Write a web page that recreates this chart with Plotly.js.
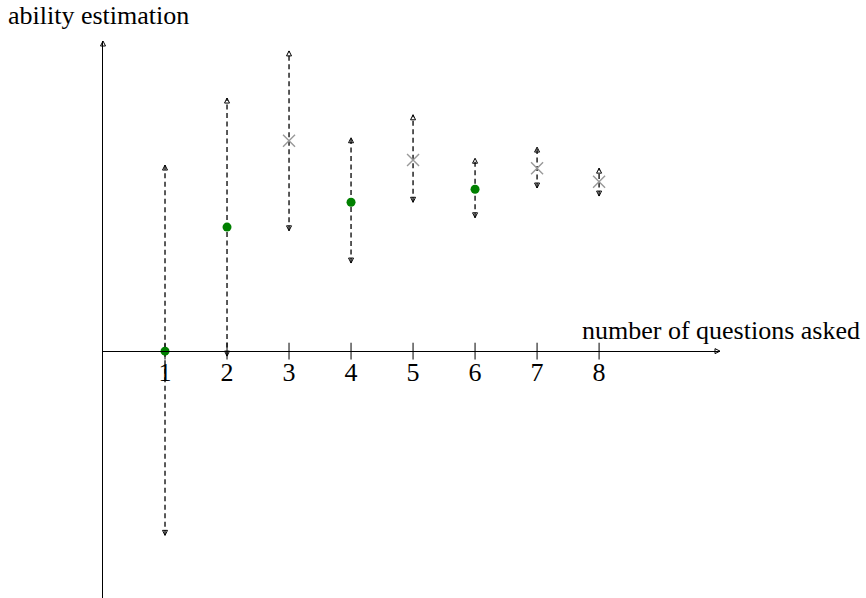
<!DOCTYPE html>
<html><head><meta charset="utf-8">
<script src="https://cdn.plot.ly/plotly-3.0.1.min.js"></script>
<style>html,body{margin:0;padding:0;background:#fff}#c{width:866px;height:598px}</style>
</head><body><div id="c"></div>
<script>
const questions = [1, 2, 3, 4, 5, 6, 7, 8];
const tickLabels = ['1', '2', '3', '4', '5', '6', '7', '8'];
const estimate = [0, 2.0, 3.39, 2.40, 3.08, 2.61, 2.95, 2.73];
const upper = [3.0, 4.08, 4.84, 3.44, 3.81, 3.11, 3.29, 2.95];
const lower = [-2.97, -0.08, 1.94, 1.42, 2.40, 2.15, 2.63, 2.50];
const kind = ['dot', 'dot', 'cross', 'dot', 'cross', 'dot', 'cross', 'cross'];

const xMax = 9.95, yMin = -3.98, yMax = 5.0;
const serif = 'Liberation Serif, Times New Roman, serif';

const barX = [], barY = [];
questions.forEach((q, i) => { barX.push(q, q, null); barY.push(lower[i], upper[i], null); });

const dotsX = [], dotsY = [], crossX = [], crossY = [];
questions.forEach((q, i) => {
  if (kind[i] === 'dot') { dotsX.push(q); dotsY.push(estimate[i]); }
  else { crossX.push(q); crossY.push(estimate[i]); }
});

const arrowMarker = (sym) => ({symbol: sym, size: 5, color: '#000', line: {color: '#000', width: 1}});

const traces = [
  {x: questions, y: questions.map(() => 0), mode: 'markers', marker: {symbol: 'line-ns-open', size: 12, color: '#000', line: {color: '#000', width: 1}}, cliponaxis: false},
  {x: barX, y: barY, mode: 'lines', line: {color: '#000', width: 1.3, dash: '5px,3.5px'}, hoverinfo: 'skip', cliponaxis: false},
  {x: questions, y: upper, mode: 'markers', marker: arrowMarker('arrow-up-open'), cliponaxis: false},
  {x: questions, y: lower, mode: 'markers', marker: arrowMarker('arrow-down-open'), cliponaxis: false},
  {x: crossX, y: crossY, mode: 'markers', marker: {symbol: 'x-thin-open', size: 12, color: '#999', line: {color: '#999', width: 1.4}}, cliponaxis: false},
  {x: dotsX, y: dotsY, mode: 'markers', marker: {symbol: 'circle', size: 9, color: '#008000'}, cliponaxis: false},
  {x: [xMax], y: [0], mode: 'markers', marker: arrowMarker('arrow-right-open'), cliponaxis: false},
  {x: [0], y: [yMax], mode: 'markers', marker: arrowMarker('arrow-up-open'), cliponaxis: false}
];

const layout = {
  width: 866, height: 598,
  margin: {l: 103, r: 146, t: 41, b: 0},
  paper_bgcolor: '#fff', plot_bgcolor: '#fff',
  showlegend: false,
  xaxis: {
    range: [0, xMax], showgrid: false, zeroline: false,
    showline: true, linecolor: '#000', linewidth: 1,
    anchor: 'free', position: (0 - yMin) / (yMax - yMin),
    tickmode: 'array', tickvals: questions, ticktext: tickLabels,
    ticks: '', ticklabelstandoff: -2,
    tickfont: {family: serif, size: 26, color: '#000'}
  },
  yaxis: {
    range: [yMin, yMax], showgrid: false, zeroline: false,
    showline: true, linecolor: '#000', linewidth: 1,
    showticklabels: false, ticks: ''
  },
  annotations: [
    {text: 'ability estimation', xref: 'paper', yref: 'paper', x: -0.157, y: 1.045, xanchor: 'left', yanchor: 'middle', showarrow: false, font: {family: serif, size: 26, color: '#000'}},
    {text: 'number of questions asked', xref: 'paper', yref: 'paper', x: 1.23, y: 0.481, xanchor: 'right', yanchor: 'middle', showarrow: false, font: {family: serif, size: 26, color: '#000'}}
  ]
};

Plotly.newPlot('c', traces, layout, {displayModeBar: false, staticPlot: true});
</script></body></html>
